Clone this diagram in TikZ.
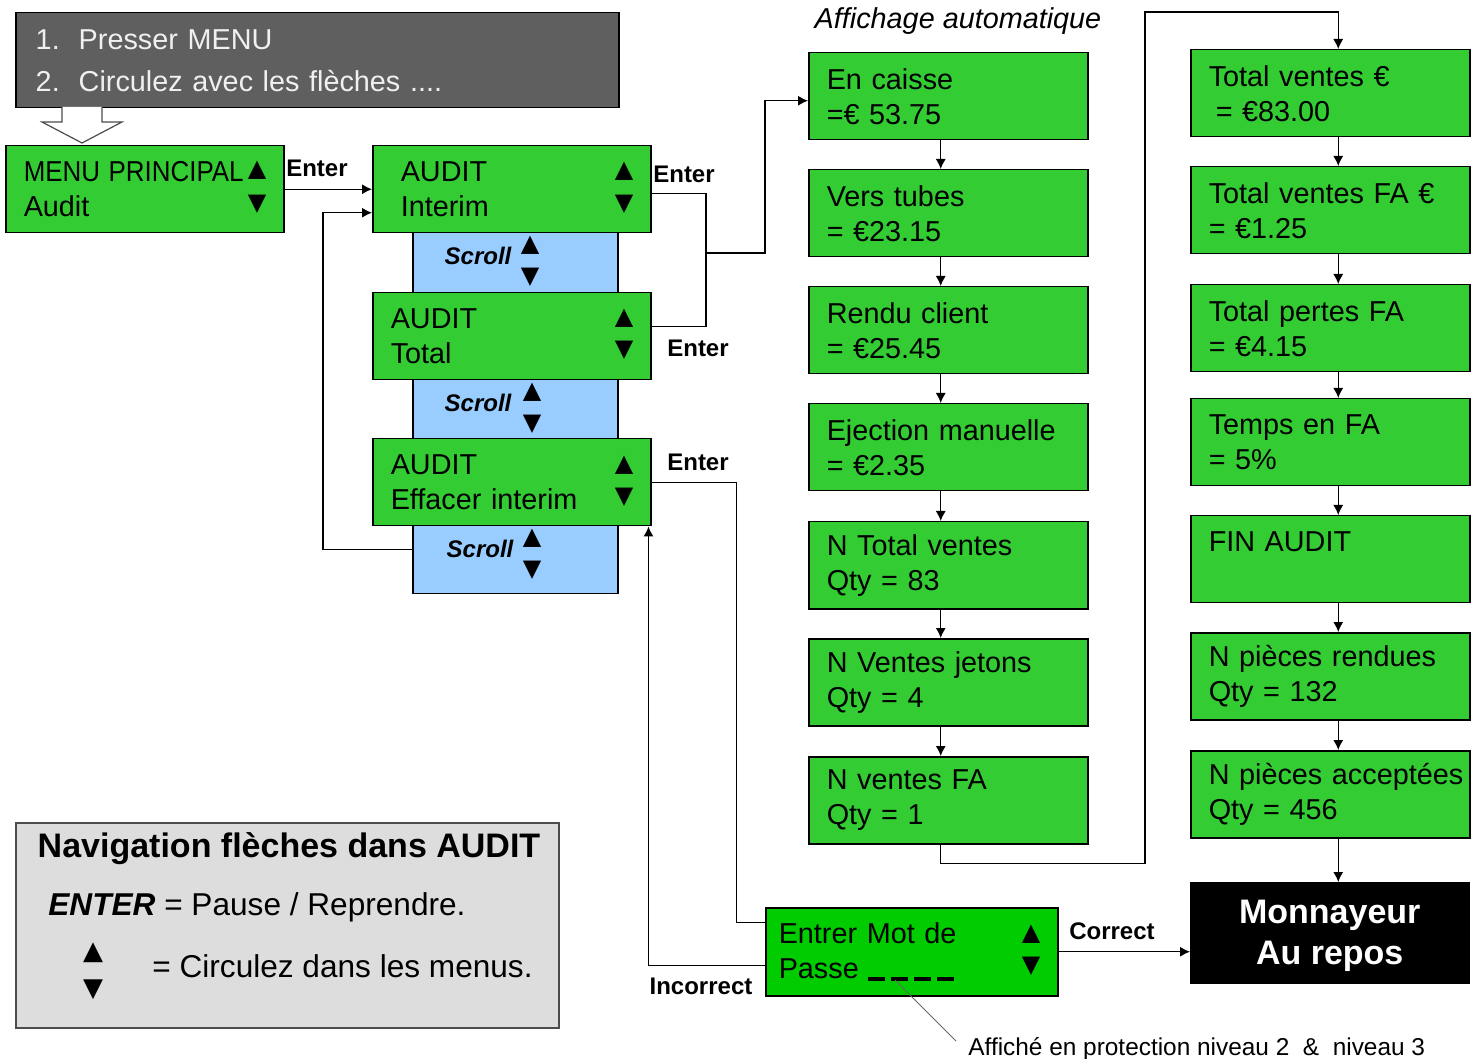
\documentclass[tikz,border=0pt]{standalone}
\usepackage{fontspec}
\usepackage{graphicx}
\setmainfont{Liberation Sans}
\newfontfamily\symfont{DejaVu Sans}
\usetikzlibrary{arrows.meta,positioning,calc}

\definecolor{lcdgreen}{HTML}{33CC33}
\definecolor{pwdgreen}{HTML}{00CC00}
\definecolor{scrollblue}{HTML}{99CCFF}
\definecolor{darkpanel}{HTML}{5F5F5F}
\definecolor{legendgray}{HTML}{DDDDDD}

\newcommand{\triup}{\symfont ▲}
\newcommand{\tridn}{\symfont ▼}
\newcommand{\pwdash}{\rule[-1pt]{8.5pt}{2pt}\hspace{3pt}}

\tikzset{
    lcd/.style={draw=black,line width=0.75pt,fill=lcdgreen,anchor=north west,
        minimum height=43.5pt,text width=121.5pt,inner xsep=9pt,inner ysep=0pt,
        align=left,font=\fontsize{14.4}{17.5}\selectfont},
    scrollbox/.style={draw=black,line width=0.75pt,fill=scrollblue,anchor=north west,
        minimum width=102.5pt,minimum height=30pt,inner sep=0pt},
    scrolltxt/.style={font=\fontsize{12}{14}\selectfont\bfseries\itshape,inner sep=0pt},
    tri/.style={font=\fontsize{12}{12}\selectfont,inner sep=0pt},
    keylbl/.style={font=\fontsize{12}{14}\selectfont\bfseries,inner sep=0pt},
    link/.style={line width=0.6pt},
}

\begin{document}
\begin{tikzpicture}[x=0.5pt,y=-0.5pt,>={Latex[length=5pt,width=5pt]}]
    \useasboundingbox (0,0) rectangle (1480,1059);

    % instructions
    \node[draw=black,line width=0.75pt,fill=darkpanel,anchor=north west,
        minimum width=301.5pt,minimum height=47.5pt,text width=281.5pt,
        inner xsep=10pt,align=left,text=white!94!black,
        font=\fontsize{14.4}{21}\selectfont] (howto) at (15,12)
        {\makebox[21.5pt][l]{1.}Presser MENU\\\makebox[21.5pt][l]{2.}Circulez avec les flèches ....};
    \draw[fill=white,draw=black!70,line width=0.6pt]
        (62,107) -- (62,122) -- (42,122) -- (82,143) -- (122,122) -- (102,122) -- (102,107);

    % main menu and audit menus
    \node[lcd,text width=121pt,inner xsep=9pt] (menu) at (5,145) {\scalebox{0.9}[1]{MENU PRINCIPAL}\\Audit};
    \node[tri] (menuup) at (257,170) {\triup};
    \node[tri] (menudn) at (257,204) {\tridn};

    \node[scrollbox] (scr1) at (412,232) {};
    \node[scrollbox,minimum height=29.5pt] (scr2) at (412,379) {};
    \node[scrollbox,minimum height=34pt] (scr3) at (412,525) {};

    \node[lcd,text width=121pt] (interim) at (372,145) {\hspace*{5pt}AUDIT\\\hspace*{5pt}Interim};
    \node[lcd,text width=121pt] (total) at (372,292) {AUDIT\\Total};
    \node[lcd,text width=121pt] (effacer) at (372,438) {AUDIT\\Effacer interim};

    \node[scrolltxt] (scrtxt1) at (478,256) {Scroll};
    \node[scrolltxt] (scrtxt2) at (478,403) {Scroll};
    \node[scrolltxt] (scrtxt3) at (480,549) {Scroll};
    \node[tri] (scrup1) at (530,245) {\triup};
    \node[tri] (scrdn1) at (530,277) {\tridn};
    \node[tri] (scrup2) at (532,392) {\triup};
    \node[tri] (scrdn2) at (532,424) {\tridn};
    \node[tri] (scrup3) at (532,538) {\triup};
    \node[tri] (scrdn3) at (532,570) {\tridn};

    \node[tri] (interimup) at (624,171) {\triup};
    \node[tri] (interimdn) at (624,204) {\tridn};
    \node[tri] (totalup) at (624,318) {\triup};
    \node[tri] (totaldn) at (624,350) {\tridn};
    \node[tri] (effacerup) at (624,465) {\triup};
    \node[tri] (effacerdn) at (624,497) {\tridn};

    % automatic display, first column
    \node[font=\fontsize{14.4}{17}\selectfont\itshape,inner sep=0pt] (auto) at (958,21) {Affichage automatique};
    \node[lcd] (caisse) at (808,52) {En caisse\\=€ 53.75};
    \node[lcd] (tubes) at (808,169) {Vers tubes\\= €23.15};
    \node[lcd] (rendu) at (808,286) {Rendu client\\= €25.45};
    \node[lcd] (eject) at (808,403) {Ejection manuelle\\= €2.35};
    \node[lcd] (ntotal) at (808,521) {N Total ventes\\Qty = 83};
    \node[lcd] (jetons) at (808,638) {N Ventes jetons\\Qty = 4};
    \node[lcd] (nfa) at (808,756) {N ventes FA\\Qty = 1};

    % second column
    \node[lcd] (tv) at (1190,49) {Total ventes €\\\hspace*{3.5pt}= €83.00};
    \node[lcd] (tvfa) at (1190,166) {Total ventes FA €\\= €1.25};
    \node[lcd] (pertes) at (1190,284) {Total pertes FA\\= €4.15};
    \node[lcd] (temps) at (1190,398) {Temps en FA\\= 5\%};
    \node[lcd] (fin) at (1190,515) {FIN AUDIT\\\mbox{}};
    \node[lcd] (rendues) at (1190,632) {N pièces rendues\\Qty = 132};
    \node[lcd] (accept) at (1190,750) {\mbox{N pièces acceptées}\\Qty = 456};
    \node[draw=black,line width=0.75pt,fill=black,text=white,anchor=north west,
        minimum width=139pt,minimum height=50pt,align=center,text depth=-3pt,
        font=\fontsize{17}{20.5}\selectfont\bfseries] (mon) at (1190,882) {Monnayeur\\Au repos};

    % password
    \node[lcd,fill=pwdgreen,minimum height=44pt,text width=133pt,inner xsep=6.5pt] (pwd) at (765,907)
        {Entrer Mot de\\Passe \pwdash\pwdash\pwdash\pwdash};
    \node[tri] (pwdup) at (1031,934) {\triup};
    \node[tri] (pwddn) at (1031,966) {\tridn};
    \coordinate (lead) at (895,980);
    \node[anchor=west,inner sep=0pt,font=\fontsize{12.2}{14}\selectfont] (note) at (968,1049)
        {Affiché en protection niveau 2 \ \& \ niveau 3};
    \draw[black!60,line width=0.5pt] (lead) -- ([xshift=-6pt,yshift=4pt]note.west);

    % key labels
    \node[keylbl] (ent1) at (317,168) {Enter};
    \node[keylbl] (ent2) at (684,174) {Enter};
    \node[keylbl] (ent3) at (698,348) {Enter};
    \node[keylbl] (ent4) at (698,462) {Enter};
    \node[keylbl] (corr) at (1112,931) {Correct};
    \node[keylbl] (incorr) at (701,986) {Incorrect};

    % connectors
    \draw[link,->] (menu.east) -- (interim.west);
    \draw[link,->] ([yshift=5pt]scr3.west) -- ++(-89,0) |- ([yshift=-11.75pt]interim.west);
    \coordinate (j1) at (706,253);
    \draw[link] ([yshift=-2pt]interim.east) -| (j1) |- ([yshift=4.75pt]total.east);
    \draw[link,->] (j1) -- ++(59,0) |- ([yshift=-2.25pt]caisse.west);
    \draw[link] (effacer.east) -- ++(85,0) |- ([yshift=14.5pt]pwd.west);
    \draw[link,->] ([yshift=-7pt]pwd.west) -| ([xshift=-1.5pt]effacer.south east);
    \draw[link,->] (pwd.east) -- (pwd.east -| mon.west);

    \foreach \a/\b in {caisse/tubes,tubes/rendu,rendu/eject,eject/ntotal,ntotal/jetons,jetons/nfa}
        \draw[link,->] ([xshift=-3.75pt]\a.south) -- ([xshift=-3.75pt]\b.north);
    \foreach \a/\b in {tv/tvfa,tvfa/pertes,pertes/temps,temps/fin,fin/rendues,rendues/accept}
        \draw[link,->] ([xshift=4pt]\a.south) -- ([xshift=4pt]\b.north);
    \draw[link,->] ([xshift=4pt]accept.south) -- ([xshift=4pt]accept.south |- mon.north);
    \draw[link,->] ([xshift=-3.75pt]nfa.south) -- ++(0,19) -| (1145,12) -| ([xshift=4pt]tv.north);

    % legend
    \node[draw=black!70,line width=0.75pt,fill=legendgray,anchor=north west,
        minimum width=271.5pt,minimum height=102.5pt] (legend) at (15,822) {};
    \node[font=\fontsize{17}{20}\selectfont\bfseries,inner sep=0pt] (legtitle) at (289,849)
        {Navigation flèches dans AUDIT};
    \node[anchor=west,inner sep=0pt,font=\fontsize{15.8}{18}\selectfont] (legenter) at (48,907)
        {\textbf{\textit{ENTER}} = Pause / Reprendre.};
    \node[tri,font=\fontsize{13}{13}\selectfont] (legup) at (93,953) {\triup};
    \node[tri,font=\fontsize{13}{13}\selectfont] (legdn) at (93,990) {\tridn};
    \node[anchor=west,inner sep=0pt,font=\fontsize{15.8}{18}\selectfont] (legscroll) at (152,966)
        {= Circulez dans les menus.};
\end{tikzpicture}
\end{document}
